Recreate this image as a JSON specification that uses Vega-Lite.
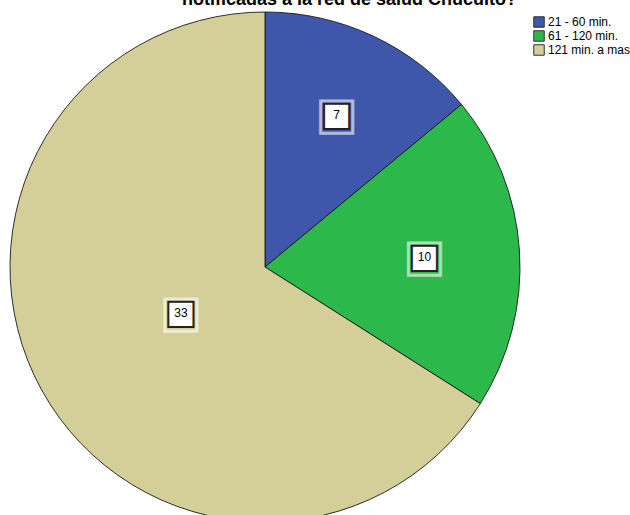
{
  "$schema": "https://vega.github.io/schema/vega-lite/v6.json",
  "autosize": {"type": "none"},
  "width": 530,
  "height": 496,
  "padding": {"left": 0, "top": 19, "right": 100, "bottom": 0},
  "background": "white",
  "title": {
    "text": "notificadas a la red de salud Chucuito?",
    "font": "Liberation Sans",
    "fontSize": 18,
    "fontWeight": "bold",
    "color": "#000000",
    "anchor": "start",
    "frame": "group",
    "dx": 182,
    "offset": 1
  },
  "config": {"view": {"stroke": null}},
  "data": {
    "values": [
      {"cat": "21 - 60 min.", "value": 7, "order": 1},
      {"cat": "61 - 120 min.", "value": 10, "order": 2},
      {"cat": "121 min. a mas", "value": 33, "order": 3}
    ]
  },
  "encoding": {
    "theta": {"field": "value", "type": "quantitative", "stack": true},
    "order": {"field": "order", "type": "quantitative"}
  },
  "layer": [
    {
      "mark": {"type": "arc", "radius": 255, "stroke": "#1a1a1a", "strokeWidth": 0.9},
      "encoding": {
        "color": {
          "field": "cat",
          "type": "nominal",
          "sort": ["21 - 60 min.", "61 - 120 min.", "121 min. a mas"],
          "scale": {
            "domain": ["21 - 60 min.", "61 - 120 min.", "121 min. a mas"],
            "range": ["#3e57aa", "#2db84b", "#d4ce98"]
          },
          "legend": {
            "title": null,
            "orient": "none",
            "legendX": 533,
            "legendY": -3,
            "symbolType": "square",
            "symbolSize": 110,
            "symbolStrokeColor": "#333333",
            "symbolStrokeWidth": 1,
            "symbolOpacity": 1,
            "labelFont": "Liberation Sans",
            "labelFontSize": 12,
            "labelColor": "#000000",
            "labelOffset": 3,
            "rowPadding": -3
          }
        }
      }
    },
    {
      "mark": {"type": "text", "text": "■", "font": "DejaVu Sans", "fontSize": 42, "fillOpacity": 0, "stroke": "#ffffff", "strokeOpacity": 0.6, "strokeWidth": 3, "baseline": "middle", "dy": 0},
      "encoding": {"radius": {"field": "value", "type": "quantitative", "scale": {"type": "linear", "domain": [7, 33], "range": [168, 96], "zero": false}}}
    },
    {
      "mark": {"type": "text", "text": "■", "font": "DejaVu Sans", "fontSize": 33, "fill": "#ffffff", "stroke": "#222222", "strokeWidth": 2, "baseline": "middle", "dy": 0},
      "encoding": {"radius": {"field": "value", "type": "quantitative", "scale": {"type": "linear", "domain": [7, 33], "range": [168, 96], "zero": false}}}
    },
    {
      "mark": {"type": "text", "font": "Liberation Sans", "fontSize": 12, "fill": "#000000", "baseline": "middle"},
      "encoding": {
        "text": {"field": "value", "type": "quantitative"},
        "radius": {"field": "value", "type": "quantitative", "scale": {"type": "linear", "domain": [7, 33], "range": [168, 96], "zero": false}}
      }
    }
  ]
}
